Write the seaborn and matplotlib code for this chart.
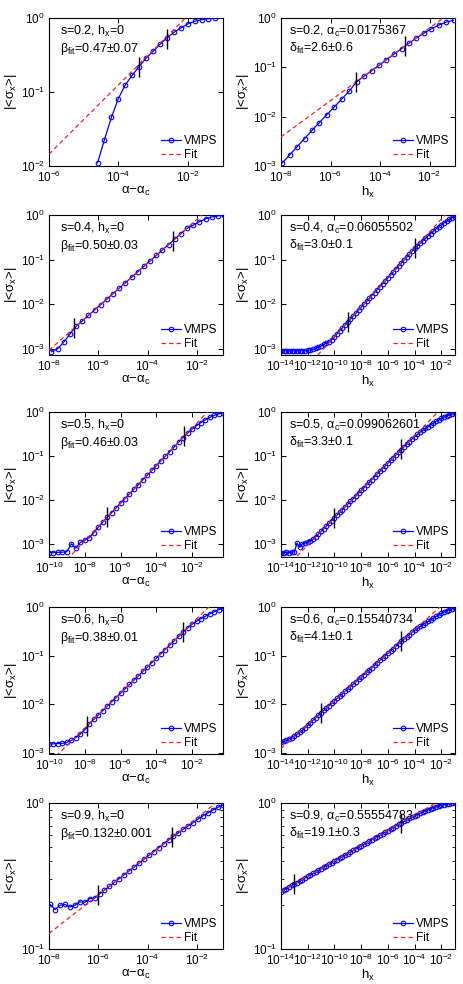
import numpy as np
import matplotlib
matplotlib.use("Agg")
import matplotlib.pyplot as plt
import seaborn as sns
from matplotlib.ticker import FixedLocator, NullLocator, NullFormatter, LogFormatterSciNotation

# ---------------- data (log10 values) ----------------
# shared grid of h_x exponents for the right-hand panels of rows 2-5
h_grid = [-14.0, -13.8, -13.6, -13.4, -13.2, -13.0, -12.8, -12.6, -12.4, -12.2,
          -12.0, -11.8, -11.6, -11.4, -11.2, -11.0, -10.8, -10.6, -10.4, -10.2,
          -10.0, -9.8, -9.6, -9.4, -9.2, -9.0, -8.8, -8.6, -8.4, -8.2,
          -8.0, -7.8, -7.6, -7.4, -7.2, -7.0, -6.8, -6.6, -6.4, -6.2,
          -6.0, -5.8, -5.6, -5.4, -5.2, -5.0, -4.8, -4.6, -4.4, -4.2,
          -4.0, -3.8, -3.6, -3.4, -3.2, -3.0, -2.8, -2.6, -2.4, -2.2,
          -2.0, -1.8, -1.6, -1.4, -1.2, -1.0]
# shared grid of (alpha-alpha_c) exponents for s=0.5 and s=0.6
a_grid = [-10.0, -9.75, -9.5, -9.25, -9.0, -8.75, -8.5, -8.25, -8.0, -7.75,
          -7.5, -7.25, -7.0, -6.75, -6.5, -6.25, -6.0, -5.75, -5.5, -5.25,
          -5.0, -4.75, -4.5, -4.25, -4.0, -3.75, -3.5, -3.25, -3.0, -2.75,
          -2.5, -2.25, -2.0, -1.75, -1.5, -1.25, -1.0, -0.75, -0.5, -0.25]

# s = 0.2
s02_a_x = [-4.6, -4.4, -4.2, -4.0, -3.8, -3.6, -3.4, -3.2, -3.0, -2.8,
           -2.6, -2.4, -2.2, -2.0, -1.8, -1.6, -1.4, -1.2]
s02_a_y = [-1.959, -1.643, -1.344, -1.090, -0.905, -0.774, -0.656, -0.543, -0.452, -0.357,
           -0.271, -0.195, -0.136, -0.081, -0.045, -0.023, -0.009, -0.005]
s02_a_fit_x = [-6.0, -1.9]
s02_a_fit_y = [-1.84, 0.077]
s02_a_mark_x = [-3.4, -2.6]
s02_a_mark_y = [-0.66, -0.29]

s02_h_x = [-7.95, -7.65, -7.35, -7.05, -6.75, -6.45, -6.15, -5.84, -5.54, -5.24,
           -4.94, -4.64, -4.34, -4.04, -3.74, -3.44, -3.13, -2.83, -2.53, -2.23,
           -1.93, -1.63, -1.33, -1.03]
s02_h_y = [-2.94, -2.775, -2.61, -2.445, -2.28, -2.12, -1.96, -1.80, -1.64, -1.48,
           -1.29, -1.18, -1.07, -0.96, -0.845, -0.735, -0.62, -0.51, -0.405, -0.31,
           -0.22, -0.145, -0.085, -0.045]
s02_h_fit_x = [-8.0, -1.4]
s02_h_fit_y = [-2.411, 0.017]
s02_h_mark_x = [-4.98, -2.97]
s02_h_mark_y = [-1.30, -0.56]

# s = 0.4
s04_a_x = [-7.9, -7.65, -7.4, -7.15, -6.9, -6.65, -6.4, -6.15, -5.9, -5.65,
           -5.4, -5.15, -4.9, -4.65, -4.4, -4.15, -3.9, -3.65, -3.4, -3.15,
           -2.9, -2.65, -2.4, -2.15, -1.9, -1.65, -1.4, -1.15, -0.9]
s04_a_y = [-3.07, -3.0, -2.85, -2.67, -2.497, -2.375, -2.252, -2.130, -2.008, -1.886,
           -1.763, -1.641, -1.519, -1.397, -1.274, -1.152, -1.030, -0.908, -0.785, -0.663,
           -0.541, -0.419, -0.30, -0.23, -0.15, -0.09, -0.045, -0.02, -0.008]
s04_a_fit_x = [-8.0, -1.7]
s04_a_fit_y = [-3.035, 0.046]
s04_a_mark_x = [-7.0, -2.98]
s04_a_mark_y = [-2.545, -0.58]

s04_h_y = [-3.04, -3.05, -3.045, -3.05, -3.045, -3.05, -3.045, -3.04, -3.045, -3.04,
           -3.035, -3.025, -3.01, -2.99, -2.965, -2.935, -2.90, -2.87, -2.84, -2.795,
           -2.73, -2.664, -2.598, -2.532, -2.466, -2.40, -2.334, -2.268, -2.202, -2.136,
           -2.07, -2.004, -1.938, -1.872, -1.806, -1.74, -1.674, -1.608, -1.542, -1.476,
           -1.41, -1.344, -1.278, -1.212, -1.146, -1.08, -1.014, -0.948, -0.882, -0.816,
           -0.75, -0.69, -0.635, -0.58, -0.525, -0.47, -0.415, -0.36, -0.31, -0.265,
           -0.22, -0.175, -0.135, -0.095, -0.06, -0.035]
s04_h_fit_x = [-12.0, -1.5]
s04_h_fit_y = [-3.39, 0.075]
s04_h_mark_x = [-9.0, -4.0]
s04_h_mark_y = [-2.40, -0.75]

# s = 0.5
s05_a_y = [-3.19, -3.19, -3.185, -3.18, -3.17, -2.99, -3.09, -2.96, -2.91, -2.85,
           -2.74, -2.62, -2.50, -2.39, -2.284, -2.177, -2.071, -1.964, -1.858, -1.751,
           -1.645, -1.538, -1.432, -1.325, -1.219, -1.112, -1.006, -0.899, -0.793, -0.686,
           -0.58, -0.48, -0.39, -0.31, -0.24, -0.175, -0.12, -0.075, -0.04, -0.015]
s05_a_fit_x = [-9.0, -1.0]
s05_a_fit_y = [-3.349, 0.06]
s05_a_mark_x = [-6.75, -2.43]
s05_a_mark_y = [-2.39, -0.55]

s05_h_y = [-3.19, -3.19, -3.185, -3.19, -3.185, -3.17, -2.97, -3.07, -2.99, -2.97,
           -2.95, -2.92, -2.88, -2.83, -2.77, -2.71, -2.65, -2.585, -2.525, -2.463,
           -2.401, -2.339, -2.277, -2.215, -2.153, -2.091, -2.029, -1.967, -1.905, -1.843,
           -1.781, -1.719, -1.657, -1.595, -1.533, -1.471, -1.409, -1.347, -1.285, -1.223,
           -1.161, -1.099, -1.037, -0.975, -0.913, -0.851, -0.79, -0.73, -0.67, -0.615,
           -0.56, -0.51, -0.46, -0.415, -0.37, -0.33, -0.29, -0.25, -0.21, -0.175,
           -0.145, -0.115, -0.09, -0.065, -0.045, -0.03]
s05_h_fit_x = [-13.2, -2.0]
s05_h_fit_y = [-3.393, 0.079]
s05_h_mark_x = [-10.0, -5.0]
s05_h_mark_y = [-2.40, -0.85]

# s = 0.6
s06_a_y = [-2.82, -2.82, -2.815, -2.81, -2.79, -2.75, -2.69, -2.62, -2.53, -2.41,
           -2.317, -2.227, -2.137, -2.047, -1.957, -1.867, -1.777, -1.687, -1.597, -1.507,
           -1.417, -1.327, -1.237, -1.147, -1.057, -0.967, -0.877, -0.787, -0.697, -0.607,
           -0.517, -0.43, -0.355, -0.295, -0.24, -0.19, -0.14, -0.095, -0.055, -0.025]
s06_a_fit_x = [-9.6, -0.9]
s06_a_fit_y = [-3.073, 0.059]
s06_a_mark_x = [-7.87, -2.5]
s06_a_mark_y = [-2.45, -0.51]

s06_h_y = [-2.79, -2.77, -2.75, -2.72, -2.69, -2.66, -2.62, -2.58, -2.54, -2.49,
           -2.44, -2.39, -2.335, -2.28, -2.229, -2.18, -2.131, -2.082, -2.033, -1.984,
           -1.935, -1.886, -1.837, -1.788, -1.739, -1.69, -1.641, -1.592, -1.543, -1.494,
           -1.445, -1.396, -1.347, -1.298, -1.249, -1.20, -1.151, -1.102, -1.053, -1.004,
           -0.955, -0.906, -0.857, -0.808, -0.759, -0.71, -0.662, -0.615, -0.57, -0.525,
           -0.482, -0.44, -0.40, -0.365, -0.33, -0.298, -0.265, -0.23, -0.195, -0.16,
           -0.13, -0.10, -0.075, -0.055, -0.035, -0.02]
s06_h_fit_x = [-14.0, -1.8]
s06_h_fit_y = [-2.915, 0.074]
s06_h_mark_x = [-11.0, -5.0]
s06_h_mark_y = [-2.18, -0.71]

# s = 0.9
s09_a_x = [-7.95, -7.75, -7.55, -7.35, -7.15, -6.95, -6.75, -6.55, -6.35, -6.15,
           -5.95, -5.75, -5.55, -5.35, -5.15, -4.95, -4.75, -4.55, -4.35, -4.15,
           -3.95, -3.75, -3.55, -3.35, -3.15, -2.95, -2.75, -2.55, -2.35, -2.15,
           -1.95, -1.75, -1.55, -1.35, -1.15, -0.95]
s09_a_y = [-0.695, -0.73, -0.70, -0.695, -0.712, -0.70, -0.677, -0.68, -0.655, -0.652,
           -0.623, -0.597, -0.571, -0.544, -0.518, -0.491, -0.465, -0.439, -0.412, -0.386,
           -0.359, -0.333, -0.307, -0.280, -0.254, -0.228, -0.203, -0.179, -0.156, -0.134,
           -0.11, -0.088, -0.067, -0.048, -0.03, -0.014]
s09_a_fit_x = [-8.0, -1.0]
s09_a_fit_y = [-0.894, 0.03]
s09_a_mark_x = [-6.0, -3.0]
s09_a_mark_y = [-0.63, -0.234]

s09_h_y = [-0.607, -0.597, -0.586, -0.576, -0.565, -0.555, -0.545, -0.534, -0.524, -0.513,
           -0.503, -0.492, -0.482, -0.471, -0.461, -0.450, -0.440, -0.429, -0.419, -0.408,
           -0.398, -0.388, -0.377, -0.367, -0.356, -0.346, -0.335, -0.325, -0.314, -0.304,
           -0.293, -0.283, -0.272, -0.262, -0.251, -0.241, -0.230, -0.220, -0.210, -0.199,
           -0.189, -0.178, -0.168, -0.157, -0.147, -0.136, -0.126, -0.116, -0.106, -0.097,
           -0.088, -0.079, -0.070, -0.062, -0.054, -0.046, -0.039, -0.032, -0.026, -0.020,
           -0.015, -0.011, -0.008, -0.005, -0.003, -0.002]
s09_h_fit_x = [-14.0, -1.8]
s09_h_fit_y = [-0.607, 0.032]
s09_h_mark_x = [-13.0, -5.0]
s09_h_mark_y = [-0.555, -0.136]

# annotation texts
texts_line1 = ["s=0.2, h$_x$=0", "s=0.2, α$_c$=0.0175367",
               "s=0.4, h$_x$=0", "s=0.4, α$_c$=0.06055502",
               "s=0.5, h$_x$=0", "s=0.5, α$_c$=0.099062601",
               "s=0.6, h$_x$=0", "s=0.6, α$_c$=0.15540734",
               "s=0.9, h$_x$=0", "s=0.9, α$_c$=0.55554783"]
texts_line2 = ["β$_{fit}$=0.47±0.07", "δ$_{fit}$=2.6±0.6",
               "β$_{fit}$=0.50±0.03", "δ$_{fit}$=3.0±0.1",
               "β$_{fit}$=0.46±0.03", "δ$_{fit}$=3.3±0.1",
               "β$_{fit}$=0.38±0.01", "δ$_{fit}$=4.1±0.1",
               "β$_{fit}$=0.132±0.001", "δ$_{fit}$=19.1±0.3"]

# ---------------- style ----------------
sns.set_theme(style="ticks")
plt.rcParams.update({
    "font.family": ["Liberation Sans", "DejaVu Sans"],
    "mathtext.fontset": "custom",
    "mathtext.rm": "Liberation Sans",
    "mathtext.it": "Liberation Sans",
    "mathtext.sf": "Liberation Sans",
    "mathtext.bf": "Liberation Sans:bold",
    "mathtext.default": "regular",
    "font.size": 8.5,
    "axes.labelsize": 9.5,
    "xtick.labelsize": 8.5,
    "ytick.labelsize": 8.5,
    "legend.fontsize": 8.5,
    "axes.edgecolor": "black",
    "axes.labelcolor": "black",
    "text.color": "black",
    "xtick.color": "black",
    "ytick.color": "black",
    "axes.linewidth": 0.8,
    "xtick.direction": "in",
    "ytick.direction": "in",
    "xtick.top": True,
    "ytick.right": True,
    "xtick.major.size": 3.5,
    "ytick.major.size": 3.5,
    "xtick.minor.size": 2.0,
    "ytick.minor.size": 2.0,
    "xtick.major.width": 0.7,
    "ytick.major.width": 0.7,
    "xtick.minor.width": 0.6,
    "ytick.minor.width": 0.6,
    "xtick.major.pad": 3,
    "ytick.major.pad": 3,
    "axes.grid": False,
})

W, H = 464, 984
fig = plt.figure(figsize=(W / 100, H / 100), dpi=100)

rows_px = [(18, 166), (215, 355), (412, 557), (607, 754), (803, 949)]
cols_px = [(49, 223), (281, 455)]

panels = [
    # row 1
    dict(x=s02_a_x, y=s02_a_y, fx=s02_a_fit_x, fy=s02_a_fit_y, mx=s02_a_mark_x, my=s02_a_mark_y,
         xlim=(-6.0, -0.98), ylim=(-2.0, 0.0), xt=[-6, -4, -2], yt=[-2, -1, 0], xlab="α−α$_c$"),
    dict(x=s02_h_x, y=s02_h_y, fx=s02_h_fit_x, fy=s02_h_fit_y, mx=s02_h_mark_x, my=s02_h_mark_y,
         xlim=(-8.0, -0.97), ylim=(-3.0, 0.0), xt=[-8, -6, -4, -2], yt=[-3, -2, -1, 0], xlab="h$_x$"),
    # row 2
    dict(x=s04_a_x, y=s04_a_y, fx=s04_a_fit_x, fy=s04_a_fit_y, mx=s04_a_mark_x, my=s04_a_mark_y,
         xlim=(-8.0, -0.94), ylim=(-3.14, 0.0), xt=[-8, -6, -4, -2], yt=[-3, -2, -1, 0], xlab="α−α$_c$"),
    dict(x=h_grid, y=s04_h_y, fx=s04_h_fit_x, fy=s04_h_fit_y, mx=s04_h_mark_x, my=s04_h_mark_y,
         xlim=(-14.0, -0.98), ylim=(-3.14, 0.0), xt=[-14, -12, -10, -8, -6, -4, -2], yt=[-3, -2, -1, 0], xlab="h$_x$"),
    # row 3
    dict(x=a_grid, y=s05_a_y, fx=s05_a_fit_x, fy=s05_a_fit_y, mx=s05_a_mark_x, my=s05_a_mark_y,
         xlim=(-10.0, -0.27), ylim=(-3.29, 0.0), xt=[-10, -8, -6, -4, -2], yt=[-3, -2, -1, 0], xlab="α−α$_c$"),
    dict(x=h_grid, y=s05_h_y, fx=s05_h_fit_x, fy=s05_h_fit_y, mx=s05_h_mark_x, my=s05_h_mark_y,
         xlim=(-14.0, -0.98), ylim=(-3.29, 0.0), xt=[-14, -12, -10, -8, -6, -4, -2], yt=[-3, -2, -1, 0], xlab="h$_x$"),
    # row 4
    dict(x=a_grid, y=s06_a_y, fx=s06_a_fit_x, fy=s06_a_fit_y, mx=s06_a_mark_x, my=s06_a_mark_y,
         xlim=(-10.0, -0.27), ylim=(-3.03, 0.0), xt=[-10, -8, -6, -4, -2], yt=[-3, -2, -1, 0], xlab="α−α$_c$"),
    dict(x=h_grid, y=s06_h_y, fx=s06_h_fit_x, fy=s06_h_fit_y, mx=s06_h_mark_x, my=s06_h_mark_y,
         xlim=(-14.0, -0.98), ylim=(-3.03, 0.0), xt=[-14, -12, -10, -8, -6, -4, -2], yt=[-3, -2, -1, 0], xlab="h$_x$"),
    # row 5
    dict(x=s09_a_x, y=s09_a_y, fx=s09_a_fit_x, fy=s09_a_fit_y, mx=s09_a_mark_x, my=s09_a_mark_y,
         xlim=(-8.0, -0.94), ylim=(-1.0, 0.0), xt=[-8, -6, -4, -2], yt=[-1, 0], xlab="α−α$_c$"),
    dict(x=h_grid, y=s09_h_y, fx=s09_h_fit_x, fy=s09_h_fit_y, mx=s09_h_mark_x, my=s09_h_mark_y,
         xlim=(-14.0, -0.98), ylim=(-1.0, 0.0), xt=[-14, -12, -10, -8, -6, -4, -2], yt=[-1, 0], xlab="h$_x$"),
]

for i, p in enumerate(panels):
    r, c = divmod(i, 2)
    top, bot = rows_px[r]
    left, right = cols_px[c]
    ax = fig.add_axes([left / W, 1 - bot / H, (right - left) / W, (bot - top) / H])
    ax.set_xscale("log")
    ax.set_yscale("log")

    x = 10.0 ** np.array(p["x"])
    y = 10.0 ** np.array(p["y"])
    sns.lineplot(x=x, y=y, ax=ax, color="blue", marker="o", markersize=3.3,
                 markerfacecolor="none", markeredgecolor="blue", markeredgewidth=0.8,
                 linewidth=0.9, label="VMPS", sort=False, errorbar=None, zorder=3)
    fx = 10.0 ** np.array(p["fx"])
    fy = 10.0 ** np.array(p["fy"])
    sns.lineplot(x=fx, y=fy, ax=ax, color="#ff1a1a", linewidth=0.9, label="Fit",
                 sort=False, errorbar=None, zorder=4)
    ax.lines[-1].set_linestyle((0, (3.5, 2.5)))
    mx = 10.0 ** np.array(p["mx"])
    my = 10.0 ** np.array(p["my"])
    ax.plot(mx, my, linestyle="none", marker="|", markersize=15, markeredgewidth=1.0,
            color="black", zorder=5)

    ax.set_xlim(10.0 ** p["xlim"][0], 10.0 ** p["xlim"][1])
    ax.set_ylim(10.0 ** p["ylim"][0], 10.0 ** p["ylim"][1])
    ax.xaxis.set_major_locator(FixedLocator([10.0 ** e for e in p["xt"]]))
    ax.yaxis.set_major_locator(FixedLocator([10.0 ** e for e in p["yt"]]))
    ax.xaxis.set_major_formatter(LogFormatterSciNotation())
    ax.yaxis.set_major_formatter(LogFormatterSciNotation())
    ax.xaxis.set_minor_locator(NullLocator())
    if r == 4:
        ax.yaxis.set_minor_locator(FixedLocator([k / 10 for k in range(2, 10)]))
    else:
        ax.yaxis.set_minor_locator(NullLocator())
    ax.xaxis.set_minor_formatter(NullFormatter())
    ax.yaxis.set_minor_formatter(NullFormatter())

    ax.set_xlabel(p["xlab"], labelpad=0)
    ax.set_ylabel("|<σ$_x$>|", labelpad=1)
    for s in ax.spines.values():
        s.set_visible(True)

    xoff = 8 if c == 0 else 6
    ax.annotate(texts_line1[i], xy=(0, 1), xycoords="axes fraction",
                xytext=(xoff, -10), textcoords="offset points", ha="left", va="center",
                fontsize=9)
    ax.annotate(texts_line2[i], xy=(0, 1), xycoords="axes fraction",
                xytext=(xoff, -22), textcoords="offset points", ha="left", va="center",
                fontsize=9)

    ax.legend(loc="lower right", frameon=False, handlelength=1.7, handletextpad=0.25,
              labelspacing=0.15, borderaxespad=0.35, borderpad=0.1, numpoints=1)

fig.savefig("out.png", dpi=100)
